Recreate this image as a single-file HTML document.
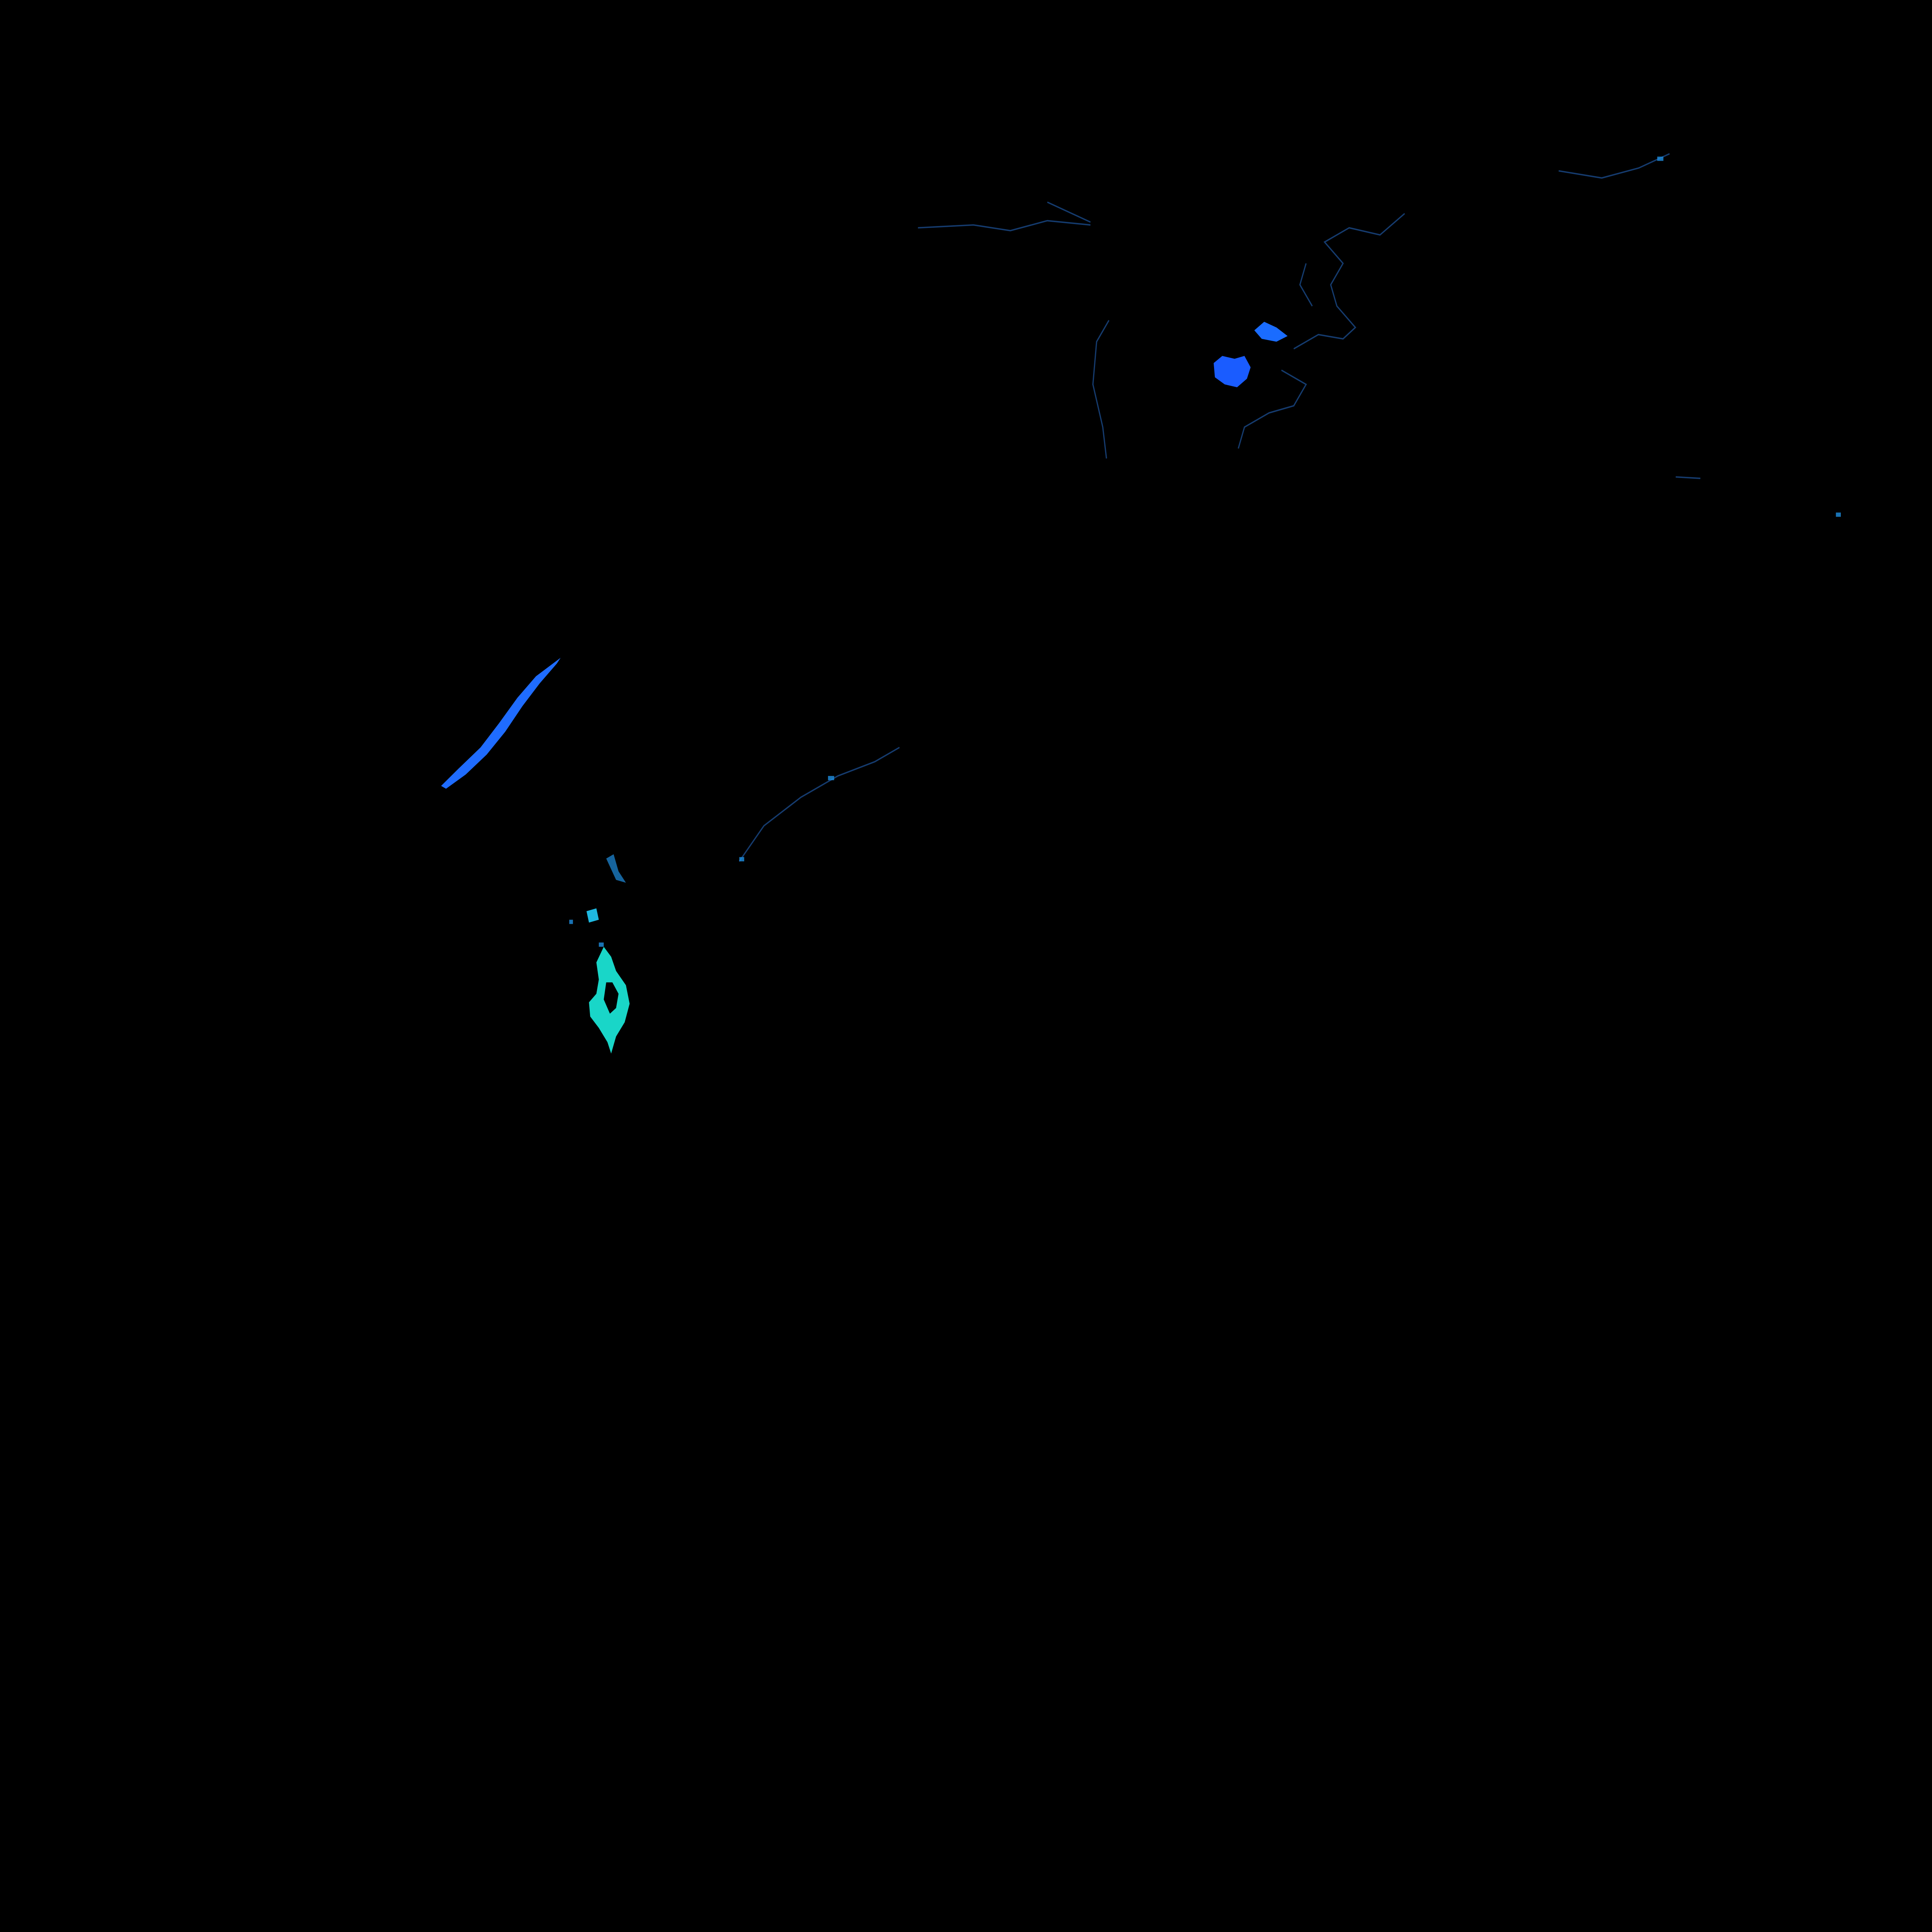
<!DOCTYPE html>
<html><head><meta charset="utf-8"><style>
html,body{margin:0;padding:0;background:#000;width:100%;height:100%;overflow:hidden}
#wrap{position:fixed;left:0;top:0;width:100vw;height:100vh;overflow:hidden;background:#000}
svg{display:block;width:100%;height:100%}
</style></head><body>
<div id="wrap">
<svg viewBox="0 0 1568 1357" preserveAspectRatio="none">
<rect width="1568" height="1357" fill="#000"/>
<path d="M358,552 L372,540 L390,525 L405,508 L420,490 L435,475 L455,462 L452,466 L438,480 L424,496 L410,514 L395,530 L378,544 L362,554 Z" fill="#1f6cff"/>
<path d="M490,665 L496,672 L500,682 L508,692 L511,705 L507,718 L500,728 L496,740 L493,732 L486,722 L479,714 L478,704 L484,698 L486,688 L484,676 Z M492,690 L490,702 L495,712 L500,708 L502,698 L497,690 Z" fill="#19d6c8" fill-rule="evenodd"/>
<path d="M476,640 L484,638 L486,646 L478,648 Z" fill="#1fb8e0"/>
<path d="M492,603 L498,600 L502,612 L508,620 L500,618 Z" fill="#1f8ee0" opacity="0.7"/>
<path d="M985,255 L992,250 L1002,252 L1010,250 L1015,258 L1012,266 L1004,272 L994,270 L986,265 Z" fill="#1a5cff"/>
<path d="M1018,232 L1026,226 L1036,230 L1045,236 L1036,240 L1024,238 Z" fill="#1a6cff"/>
<g stroke="#1a4a8a" stroke-width="1" fill="none" opacity="0.8">
<path d="M745,160 L790,158 L820,162 L850,155 L885,158"/>
<path d="M850,142 L870,150 L885,156"/>
<path d="M1050,245 L1070,235 L1090,238 L1100,230 L1085,215 L1080,200 L1090,185 L1075,170 L1095,160 L1120,165 L1140,150"/>
<path d="M1060,185 L1055,200 L1065,215"/>
<path d="M1040,260 L1060,270 L1050,285 L1030,290 L1010,300 L1005,315"/>
<path d="M900,225 L890,240 L887,270 L895,300 L898,322"/>
<path d="M600,605 L620,580 L650,560 L680,545 L710,535 L730,525"/>
<path d="M1265,120 L1300,125 L1330,118 L1355,108"/>
<path d="M1360,335 L1380,336"/>
</g>
<g fill="#1f8ee0" opacity="0.8">
<rect x="600" y="602" width="4" height="3"/>
<rect x="672" y="545" width="5" height="3"/>
<rect x="1490" y="360" width="4" height="3"/>
<rect x="1345" y="110" width="5" height="3"/>
<rect x="462" y="646" width="3" height="3"/>
<rect x="486" y="662" width="4" height="3"/>
</g>
</svg>
</div>
</body></html>
